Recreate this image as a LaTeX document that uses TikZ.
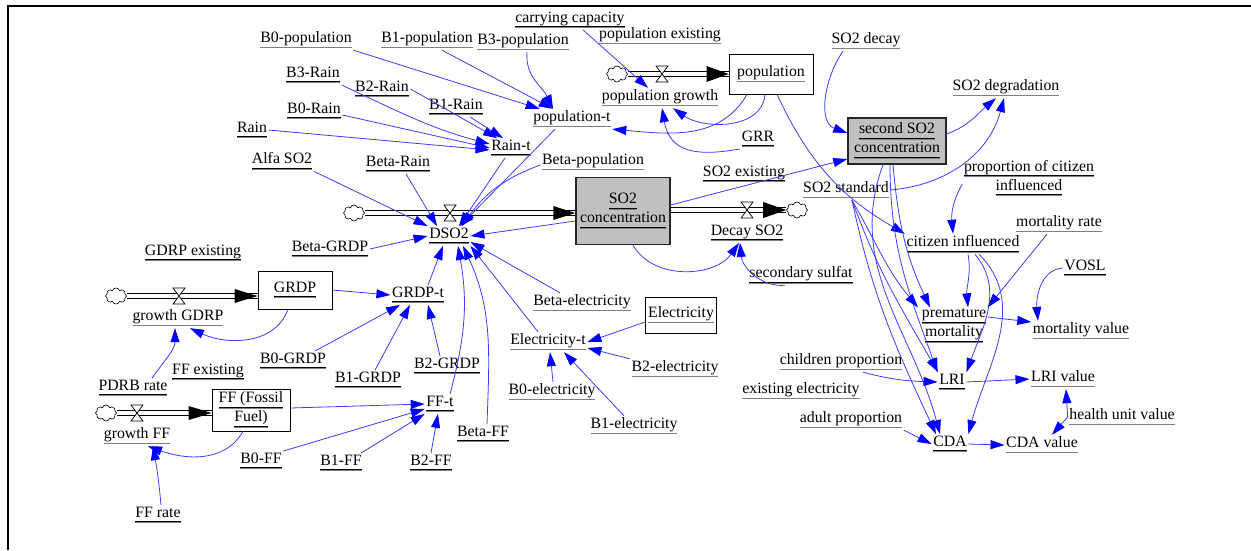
\documentclass[tikz,border=0pt]{standalone}
\usepackage{fontspec}
\setmainfont{Liberation Serif}
\usetikzlibrary{arrows.meta,shapes.symbols,calc}
\definecolor{lnblue}{RGB}{60,60,255}
\definecolor{stockgray}{RGB}{192,192,192}
\newcommand{\vu}[1]{\leavevmode\vtop{\hbox{\rule[-4pt]{0pt}{12pt}#1}\kern0.2pt\hrule height 0.8pt{\color{gray}\hrule height 1pt}}}
\tikzset{
 var/.style={inner sep=1.5pt, align=center, yshift=-3pt, font=\fontsize{15.8}{19}\selectfont},
 stockbox/.style={var, draw, line width=0.8pt, fill=white},
 graystock/.style={var, draw=black!85, line width=1.4pt, fill=stockgray},
 lnk/.style={draw=lnblue, line width=0.8pt, -{Triangle[length=14pt,width=9pt,color=blue]}},
 pipe/.style={draw=black, line width=0.8pt, double=white, double distance=3.5pt},
 cloudn/.style={cloud, draw, cloud puffs=8, aspect=1.4, minimum width=21pt, minimum height=16pt, inner sep=0pt, line width=0.6pt, fill=white},
 valve/.pic={\draw[fill=white,line width=0.7pt] (-6,8) -- (6,8) -- (-6,-8) -- (6,-8) -- cycle;}
}
\begin{document}
\begin{tikzpicture}[x=1pt,y=1pt]
\useasboundingbox (0,0) rectangle (1251,-550);
\draw[line width=2.6pt] (8,-550) -- (8,-6) -- (1251,-6);

% ---- stocks (yshift of -3pt in style, so centres given 3pt higher)
\node[stockbox, minimum width=84pt, minimum height=40pt] (pop) at (771,-71) {\vu{population}};
\node[graystock, minimum width=98pt, minimum height=46pt] (sec) at (897,-138) {\vu{second SO2}\\\vu{concentration}};
\node[graystock, minimum width=94pt, minimum height=67pt] (so2c) at (623,-208) {\vu{SO2}\\\vu{concentration}};
\node[stockbox, minimum width=74pt, minimum height=38pt] (grdp) at (295,-287) {\vu{GRDP}};
\node[stockbox, minimum width=71pt, minimum height=36pt] (elec) at (681,-312) {\vu{Electricity}};
\node[stockbox, minimum width=78pt, minimum height=42pt] (ff) at (251,-407) {\vu{FF (Fossil}\\\vu{Fuel)}};

% ---- clouds
\node[cloudn] (c1) at (617,-74) {};
\node[cloudn] (c2) at (354,-213) {};
\node[cloudn] (cd) at (797,-210) {};
\node[cloudn] (c3) at (116,-296) {};
\node[cloudn] (c4) at (106,-413) {};

% ---- pipes
\draw[pipe] (c1.east) -- (c1.east -| pop.west);
\fill (c1.east -| pop.west) -- ++(-22,8) -- ++(0,-16) -- cycle;
\pic at (662,-74) {valve};
\draw[pipe] (c2.east) -- (c2.east -| so2c.west);
\fill (c2.east -| so2c.west) -- ++(-22,7) -- ++(0,-14) -- cycle;
\pic at (450,-213) {valve};
\draw[pipe] (cd.west -| so2c.east) -- (cd.west);
\fill (cd.west) -- ++(-23,8) -- ++(0,-16) -- cycle;
\pic at (747,-210) {valve};
\draw[pipe] (c3.east) -- (c3.east -| grdp.west);
\fill (c3.east -| grdp.west) -- ++(-23,7) -- ++(0,-14) -- cycle;
\pic at (179,-296) {valve};
\draw[pipe] (c4.east) -- (c4.east -| ff.west);
\fill (c4.east -| ff.west) -- ++(-23,7) -- ++(0,-14) -- cycle;
\pic at (137,-413) {valve};

% ---- variables
\node[var] (b0pop) at (306,-37) {\vu{B0-population}};
\node[var] (b1pop) at (427,-37) {\vu{B1-population}};
\node[var] (b3pop) at (523,-39) {\vu{B3-population}};
\node[var] (carry) at (570,-17) {\vu{carrying capacity}};
\node[var] (popex) at (660,-33) {\vu{population existing}};
\node[var] (popg) at (660,-95) {\vu{population growth}};
\node[var] (popt) at (572,-116) {\vu{population-t}};
\node[var] (grr) at (758,-136) {\vu{GRR}};
\node[var] (so2ex) at (744,-171) {\vu{SO2 existing}};
\node[var] (so2decay) at (866,-38) {\vu{SO2 decay}};
\node[var] (so2deg) at (1006,-85) {\vu{SO2 degradation}};
\node[var] (propc) at (1029,-175) {\vu{proportion of citizen}\\\vu{influenced}};
\node[var] (so2std) at (846,-187) {\vu{SO2 standard}};
\node[var] (b3rain) at (313,-72) {\vu{B3-Rain}};
\node[var] (b2rain) at (382,-86) {\vu{B2-Rain}};
\node[var] (b1rain) at (456,-104) {\vu{B1-Rain}};
\node[var] (b0rain) at (314,-108) {\vu{B0-Rain}};
\node[var] (rain) at (252,-127) {\vu{Rain}};
\node[var] (raint) at (511,-145) {\vu{Rain-t}};
\node[var] (alfa) at (282,-158) {\vu{Alfa SO2}};
\node[var] (betarain) at (398,-161) {\vu{Beta-Rain}};
\node[var] (betapop) at (593,-159) {\vu{Beta-population}};
\node[var] (dso2) at (449,-233) {\vu{DSO2}};
\node[var] (decay) at (747,-230) {\vu{Decay SO2}};
\node[var] (betagrdp) at (330,-246) {\vu{Beta-GRDP}};
\node[var] (gdrpex) at (193,-250) {\vu{GDRP existing}};
\node[var] (growthg) at (178,-315) {\vu{growth GDRP}};
\node[var] (grdpt) at (418,-292) {\vu{GRDP-t}};
\node[var] (betael) at (582,-300) {\vu{Beta-electricity}};
\node[var] (elect) at (548,-339) {\vu{Electricity-t}};
\node[var] (b2el) at (675,-366) {\vu{B2-electricity}};
\node[var] (b0el) at (552,-389) {\vu{B0-electricity}};
\node[var] (b1el) at (634,-423) {\vu{B1-electricity}};
\node[var] (b0grdp) at (293,-358) {\vu{B0-GRDP}};
\node[var] (b1grdp) at (368,-377) {\vu{B1-GRDP}};
\node[var] (b2grdp) at (447,-363) {\vu{B2-GRDP}};
\node[var] (ffex) at (208,-369) {\vu{FF existing}};
\node[var] (pdrb) at (133,-385) {\vu{PDRB rate}};
\node[var] (ffg) at (137,-433) {\vu{growth FF}};
\node[var] (fft) at (440,-401) {\vu{FF-t}};
\node[var] (betaff) at (483,-431) {\vu{Beta-FF}};
\node[var] (b0ff) at (261,-458) {\vu{B0-FF}};
\node[var] (b1ff) at (341,-460) {\vu{B1-FF}};
\node[var] (b2ff) at (431,-460) {\vu{B2-FF}};
\node[var] (ffrate) at (158,-512) {\vu{FF rate}};
\node[var] (secsul) at (801,-272) {\vu{secondary sulfat}};
\node[var] (citi) at (963,-241) {\vu{citizen influenced}};
\node[var] (mortrate) at (1059,-221) {\vu{mortality rate}};
\node[var] (vosl) at (1085,-265) {\vu{VOSL}};
\node[var] (prem) at (954,-323) {\vu{premature}\\\vu{mortality}};
\node[var] (mortval) at (1081,-328) {\vu{mortality value}};
\node[var] (child) at (841,-359) {\vu{children proportion}};
\node[var] (exel) at (801,-388) {\vu{existing electricity}};
\node[var] (lri) at (952,-379) {\vu{LRI}};
\node[var] (lrival) at (1063,-376) {\vu{LRI value}};
\node[var] (adult) at (851,-417) {\vu{adult proportion}};
\node[var] (health) at (1122,-414) {\vu{health unit value}};
\node[var] (cda) at (950,-441) {\vu{CDA}};
\node[var] (cdaval) at (1042,-442) {\vu{CDA value}};

% ---- population block
\draw[lnk] (b0pop.south east) -- (popt);
\draw[lnk] ([xshift=15pt]b1pop.south) -- (popt);
\draw[lnk] ([xshift=4pt]b3pop.south) to[out=-95,in=115] ([xshift=-19pt]popt.north);
\draw[lnk] ([xshift=13pt]carry.south) -- ([xshift=-12pt]popg.north);
\draw[lnk] ([xshift=-24pt]pop.south) to[out=-120,in=-5] (popt.south east);
\draw[lnk] ([xshift=-6pt]pop.south) to[out=-95,in=-35] ([xshift=13pt]popg.south);
\draw[lnk] (grr.south west) to[out=190,in=-80,looseness=1.3] ([xshift=2pt]popg.south);
\draw[lnk] ([xshift=6pt]pop.south) to[out=-65,in=150] (citi.north west);

% ---- rain block
\draw[lnk] (b3rain.south east) to[out=-25,in=165] ([yshift=4pt]raint.west);
\draw[lnk] (b2rain.east) -- ([xshift=-14pt]raint.north);
\draw[lnk] ([xshift=14pt]b1rain.south) -- ([xshift=-8pt]raint.north);
\draw[lnk] ([yshift=-4pt]b0rain.east) -- (raint.west);
\draw[lnk] (rain.east) -- ([yshift=-2pt]raint.west);

% ---- DSO2 inputs
\draw[lnk] (alfa.south east) -- (dso2.north west);
\draw[lnk] ([xshift=8pt]betarain.south) -- ([xshift=-12pt]dso2.north);
\draw[lnk] ([xshift=-6pt]raint.south) -- ([xshift=10pt]dso2.north);
\draw[lnk] ([xshift=-17pt]popt.south) -- ([xshift=11pt]dso2.north);
\draw[lnk] ([yshift=-3pt]betapop.west) to[out=200,in=55] ([xshift=13pt]dso2.north);
\draw[lnk] (betagrdp.east) -- (dso2.west);
\draw[lnk] ([xshift=10pt]grdpt.north) -- ([xshift=-6pt]dso2.south);
\draw[lnk] ([xshift=10pt]fft.north) to[out=75,in=-80] ([xshift=9pt]dso2.south);
\draw[lnk] ([xshift=4pt]betaff.north) to[out=88,in=-65] ([xshift=14pt]dso2.south);
\draw[lnk] ([xshift=-10pt]elect.north) -- (dso2.south east);
\draw[lnk] ([xshift=-22pt]betael.north) -- ([yshift=-6pt]dso2.east);
\draw[lnk] ([yshift=-10pt]so2c.west) -- (dso2.east);

% ---- SO2 block
\draw[lnk] ([yshift=6pt]so2c.east) -- ([yshift=-18pt]sec.west);
\draw[lnk] ([xshift=10pt]so2c.south) to[out=-60,in=-125] ([xshift=-8pt]decay.south);
\draw[lnk] ([xshift=-16pt]secsul.south) to[out=185,in=-85] ([xshift=-7pt]decay.south);
\draw[lnk] ([xshift=-23pt]so2decay.south) to[out=235,in=160] ([yshift=8pt]sec.west);
\draw[lnk] ([yshift=7pt]sec.east) to[out=20,in=-140] ([xshift=-10pt]so2deg.south);
\draw[lnk] (so2std.east) to[out=5,in=-105] ([xshift=-2pt]so2deg.south);

% ---- health block
\draw[lnk] ([yshift=-6pt]propc.west) to[out=-120,in=95] ([xshift=-10pt]citi.north);
\draw[lnk] ([xshift=-4pt]sec.south) to[out=-85,in=115] ([xshift=-24pt]prem.north);
\draw[lnk] ([xshift=-7pt]sec.south) to[out=-90,in=110] (lri.north west);
\draw[lnk] ([xshift=-14pt]sec.south) to[out=-110,in=105] ([xshift=-10pt]cda.north);
\draw[lnk] ([xshift=6pt]so2std.south) to[out=-60,in=130] ([xshift=-36pt]prem.north);
\draw[lnk] ([xshift=6pt]so2std.south) to[out=-70,in=120] ([xshift=-14pt]lri.north);
\draw[lnk] ([xshift=6pt]so2std.south) to[out=-78,in=115] ([xshift=-14pt]cda.north);
\draw[lnk] ([xshift=5pt]citi.south) to[out=-80,in=95] ([xshift=14pt]prem.north);
\draw[lnk] ([xshift=12pt]citi.south) to[out=-50,in=70] (lri.north east);
\draw[lnk] ([xshift=16pt]citi.south) to[out=-45,in=75] (cda.north east);
\draw[lnk] ([xshift=-12pt]mortrate.south) -- (prem.north east);
\draw[lnk] (vosl.west) to[out=185,in=95] ([xshift=-43pt]mortval.north);
\draw[lnk] ([yshift=9pt]prem.east) -- ([yshift=9pt]mortval.west);
\draw[lnk] ([xshift=22pt]child.south) to[out=-15,in=178] (lri.west);
\draw[lnk] (lri.east) -- (lrival.west);
\draw[lnk] (health.west) -- ([xshift=3pt]lrival.south);
\draw[lnk] (health.west) -- ([xshift=10pt]cdaval.north);
\draw[lnk] (adult.south east) -- (cda.west);
\draw[lnk] (cda.east) -- (cdaval.west);

% ---- GRDP block
\draw[lnk] (grdp.east) -- (grdpt.west);
\draw[lnk] ([xshift=-7pt]grdp.south) to[out=-110,in=-25] ([xshift=12pt]growthg.south);
\draw[lnk] ([xshift=19pt]pdrb.north) to[out=55,in=-90] ([xshift=-3pt]growthg.south);
\draw[lnk] ([xshift=22pt]b0grdp.north) -- ([xshift=-18pt]grdpt.south);
\draw[lnk] ([xshift=7pt]b1grdp.north) -- ([xshift=-8pt]grdpt.south);
\draw[lnk] ([xshift=-7pt]b2grdp.north) -- ([xshift=10pt]grdpt.south);

% ---- electricity block
\draw[lnk] ([yshift=-7pt]elec.west) -- (elect.east);
\draw[lnk] (b2el.north west) -- ([yshift=-6pt]elect.east);
\draw[lnk] ([xshift=1pt]b0el.north) -- ([xshift=2pt]elect.south);
\draw[lnk] ([xshift=-10pt]b1el.north) -- ([xshift=16pt]elect.south);

% ---- FF block
\draw[lnk] ([yshift=2pt]ff.east) -- (fft.west);
\draw[lnk] (b0ff.north east) -- ([yshift=-5pt]fft.west);
\draw[lnk] ([xshift=20pt]b1ff.north) -- (fft.south west);
\draw[lnk] (b2ff.north) -- ([xshift=-2pt]fft.south);
\draw[lnk] ([xshift=-8pt]ff.south) to[out=-120,in=-20] ([xshift=11pt]ffg.south);
\draw[lnk] ([xshift=3pt]ffrate.north) to[out=95,in=-80] ([xshift=16pt]ffg.south);
\end{tikzpicture}
\end{document}
